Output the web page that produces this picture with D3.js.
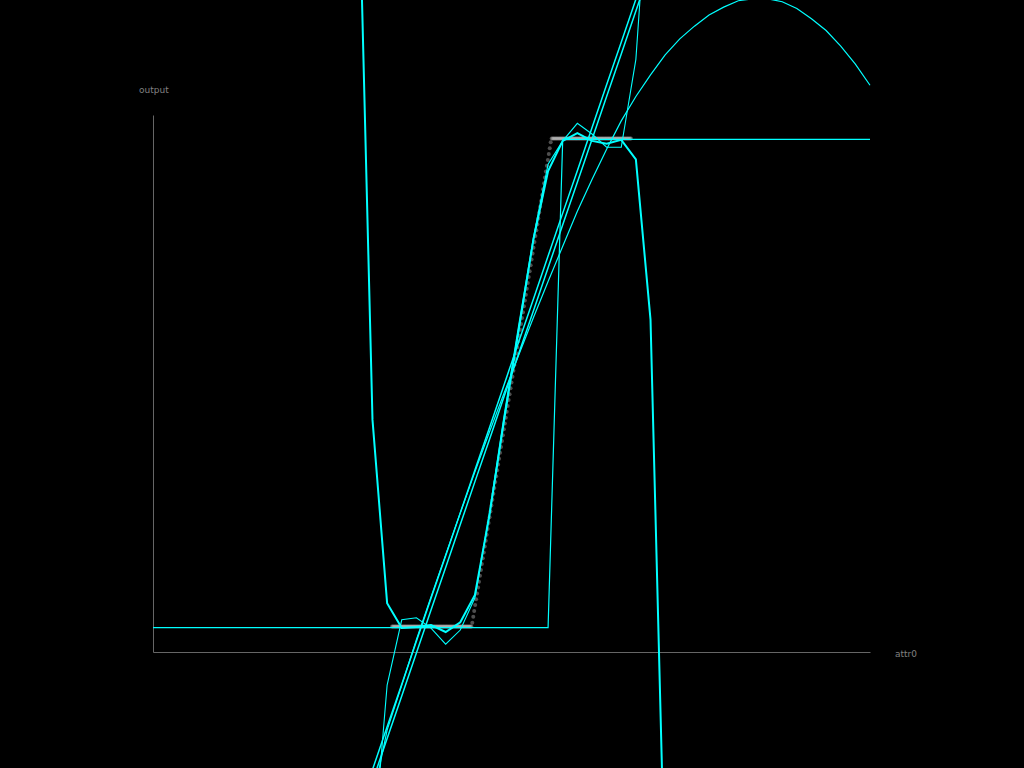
<!DOCTYPE html>
<html><head><meta charset="utf-8">
<script src="https://cdn.jsdelivr.net/npm/d3@7"></script>
<style>html,body{margin:0;background:#000;overflow:hidden}</style>
</head><body>
<svg id="c" width="1024" height="768"></svg>
<script>
// ---- data ----
const xLabel = "attr0";
const yLabel = "output";
const xDomain = [-3, 3];
const yDomain = [-0.05, 1.05];

// prediction grid (attr0)
const sampleX = [-3,-2.8776,-2.7551,-2.6327,-2.5102,-2.3878,-2.2653,-2.1429,-2.0204,-1.898,
 -1.7755,-1.6531,-1.5306,-1.4082,-1.2857,-1.1633,-1.0408,-0.9184,-0.7959,-0.6735,
 -0.551,-0.4286,-0.3061,-0.1837,-0.0612,0.0612,0.1837,0.3061,0.4286,0.551,
 0.6735,0.7959,0.9184,1.0408,1.1633,1.2857,1.4082,1.5306,1.6531,1.7755,
 1.898,2.0204,2.1429,2.2653,2.3878,2.5102,2.6327,2.7551,2.8776,3];

const stepModel = [0,0,0,0,0,0,0,0,0,0, 0,0,0,0,0,0,0,0,0,0, 0,0,0,0,0,0,0,0,1,1,
 1,1,1,1,1,1,1,1,1,1, 1,1,1,1,1,1,1,1,1,1];

const polyHigh = [900,600,400,260,170,110,70,45,28,17, 10,6,3.4,4.0,1.624,0.426,0.050,-0.001,0.001,0.005,
 -0.009,0.011,0.067,0.231,0.426,0.611,0.795,0.935,0.997,1.013,
 0.997,0.991,0.999,0.959,0.631,-0.545,-3.2,-8,-17,-33, -60,-100,-160,-250,-380,-560,-800,-1100,-1500,-2000];

const polyLow = [-900,-600,-400,-260,-170,-110,-70,-45,-28,-17, -10,-6,-3.5,-2.4,-1.38,-0.477,-0.118,0.016,0.020,-0.001,
 -0.034,-0.005,0.061,0.237,0.436,0.621,0.800,0.949,0.997,1.033,
 1.011,0.984,0.984,1.164,1.596,4.5,9,17,30,50, 80,120,180,260,370,510,700,950,1250,1650];

const linearA = [-1.606,-1.518,-1.431,-1.343,-1.255,-1.168,-1.080,-0.992,-0.905,-0.817,
 -0.729,-0.642,-0.554,-0.466,-0.379,-0.291,-0.203,-0.116,-0.028,0.060,
 0.147,0.235,0.323,0.410,0.498,0.586,0.673,0.761,0.849,0.936,
 1.024,1.112,1.199,1.287,1.375,1.462,1.550,1.638,1.725,1.813,
 1.901,1.988,2.076,2.164,2.251,2.339,2.427,2.514,2.602,2.690];

const linearB = [-1.630,-1.542,-1.455,-1.367,-1.279,-1.192,-1.104,-1.016,-0.929,-0.841,
 -0.753,-0.666,-0.578,-0.490,-0.403,-0.315,-0.227,-0.140,-0.052,0.036,
 0.123,0.211,0.299,0.386,0.474,0.562,0.649,0.737,0.825,0.912,
 1.000,1.088,1.175,1.263,1.351,1.438,1.526,1.614,1.701,1.789,
 1.877,1.964,2.052,2.140,2.227,2.315,2.403,2.490,2.578,2.666];

const smoothCurve = [-3.13,-2.9,-2.67,-2.45,-2.24,-2.03,-1.83,-1.64,-1.46,-1.28,
 -1.11,-0.95,-0.79,-0.64,-0.497,-0.354,-0.210,-0.118,-0.025,0.063,
 0.149,0.235,0.319,0.401,0.481,0.559,0.635,0.709,0.781,0.853,
 0.918,0.980,1.038,1.088,1.132,1.173,1.206,1.232,1.255,1.271,
 1.284,1.288,1.288,1.282,1.268,1.247,1.223,1.191,1.154,1.111];

// observed samples
const obsX = [-1,-0.992,-0.984,-0.976,-0.968,-0.96,-0.952,-0.944,-0.936,-0.928,-0.92,-0.912,-0.904,-0.896,-0.888,-0.88,-0.872,-0.864,-0.856,-0.848,-0.84,-0.832,-0.824,-0.816,-0.808,-0.8,-0.792,-0.784,-0.776,-0.768,-0.76,-0.752,-0.744,-0.736,-0.728,-0.72,-0.712,-0.704,-0.696,-0.688,-0.68,-0.672,-0.664,-0.656,-0.648,-0.64,-0.632,-0.624,-0.616,-0.608,-0.6,-0.592,-0.584,-0.576,-0.568,-0.56,-0.552,-0.544,-0.536,-0.528,-0.52,-0.512,-0.504,-0.496,-0.488,-0.48,-0.472,-0.464,-0.456,-0.448,-0.44,-0.432,-0.424,-0.416,-0.408,-0.4,-0.392,-0.384,-0.376,-0.368,-0.36,-0.352,-0.344,-0.336,
 -0.328,-0.32,-0.312,-0.304,-0.296,-0.288,-0.28,-0.272,-0.264,-0.256,-0.248,-0.24,-0.232,-0.224,-0.216,-0.208,-0.2,-0.192,-0.184,-0.176,-0.168,-0.16,-0.152,-0.144,-0.136,-0.128,-0.12,-0.112,-0.104,-0.096,-0.088,-0.08,-0.072,-0.064,-0.056,-0.048,-0.04,-0.032,-0.024,-0.016,-0.008,0,0.008,0.016,0.024,0.032,0.04,0.048,0.056,0.064,0.072,0.08,0.088,0.096,0.104,0.112,0.12,0.128,0.136,0.144,0.152,0.16,0.168,0.176,0.184,0.192,0.2,0.208,0.216,0.224,0.232,0.24,0.248,0.256,0.264,0.272,0.28,0.288,0.296,0.304,0.312,0.32,0.328,
 0.336,0.344,0.352,0.36,0.368,0.376,0.384,0.392,0.4,0.408,0.416,0.424,0.432,0.44,0.448,0.456,0.464,0.472,0.48,0.488,0.496,0.504,0.512,0.52,0.528,0.536,0.544,0.552,0.56,0.568,0.576,0.584,0.592,0.6,0.608,0.616,0.624,0.632,0.64,0.648,0.656,0.664,0.672,0.68,0.688,0.696,0.704,0.712,0.72,0.728,0.736,0.744,0.752,0.76,0.768,0.776,0.784,0.792,0.8,0.808,0.816,0.824,0.832,0.84,0.848,0.856,0.864,0.872,0.88,0.888,0.896,0.904,0.912,0.92,0.928,0.936,0.944,0.952,0.96,0.968,0.976,0.984,0.992,1];
const obsY = [0,0,0,0,0,0,0,0,0,0,0,0,0,0,0,0,0,0,0,0,0,0,0,0,0,0,0,0,0,0,0,0,0,0,0,0,0,0,0,0,0,0,0,0,0,0,0,0,0,0,0,0,0,0,0,0,0,0,0,0,0,0,0,0,0,0,0,0,0,0,0,0,0,0,0,0,0,0,0,0,0,0,0,0,
 0.008,0.02,0.032,0.044,0.056,0.068,0.08,0.092,0.104,0.116,0.128,0.14,0.152,0.164,0.176,0.188,0.2,0.212,0.224,0.236,0.248,0.26,0.272,0.284,0.296,0.308,0.32,0.332,0.344,0.356,0.368,0.38,0.392,0.404,0.416,0.428,0.44,0.452,0.464,0.476,0.488,0.5,0.512,0.524,0.536,0.548,0.56,0.572,0.584,0.596,0.608,0.62,0.632,0.644,0.656,0.668,0.68,0.692,0.704,0.716,0.728,0.74,0.752,0.764,0.776,0.788,0.8,0.812,0.824,0.836,0.848,0.86,0.872,0.884,0.896,0.908,0.92,0.932,0.944,0.956,0.968,0.98,0.992,
 1,1,1,1,1,1,1,1,1,1,1,1,1,1,1,1,1,1,1,1,1,1,1,1,1,1,1,1,1,1,1,1,1,1,1,1,1,1,1,1,1,1,1,1,1,1,1,1,1,1,1,1,1,1,1,1,1,1,1,1,1,1,1,1,1,1,1,1,1,1,1,1,1,1,1,1,1,1,1,1,1,1,1,1];

// ---- chart ----
const svg = d3.select("#c");
svg.append("rect").attr("width",1024).attr("height",768).attr("fill","#000");
const x = d3.scaleLinear().domain(xDomain).range([153, 870]);
const y = d3.scaleLinear().domain(yDomain).range([652, 115]);

const gx = svg.append("g").attr("transform","translate(0,652)")
  .call(d3.axisBottom(x).ticks(0).tickSizeOuter(0));
const gy = svg.append("g").attr("transform","translate(153,0)")
  .call(d3.axisLeft(y).ticks(0).tickSizeOuter(0));
[gx,gy].forEach(g => g.select(".domain").attr("stroke","#666").attr("stroke-width",1));

svg.append("text").attr("x",139).attr("y",93).text(yLabel)
  .attr("fill","#808080").attr("font-family","DejaVu Sans").attr("font-size",9);
svg.append("text").attr("x",895).attr("y",657).text(xLabel)
  .attr("fill","#808080").attr("font-family","DejaVu Sans").attr("font-size",9);

// observations
svg.append("g").selectAll("circle").data(obsX).join("circle")
  .attr("cx",(d,i)=>x(d)).attr("cy",(d,i)=>y(obsY[i])-1)
  .attr("r",2).attr("fill","#cccccc").attr("fill-opacity",0.38);

const line = d3.line().x((d,i)=>x(sampleX[i])).y(d=>y(d));
const models = [
  {v: stepModel, w: 1.2},
  {v: linearA, w: 1.5},
  {v: linearB, w: 1.5},
  {v: smoothCurve, w: 1.2},
  {v: polyLow, w: 1.1},
  {v: polyHigh, w: 2}
];
svg.append("g").selectAll("path").data(models).join("path")
  .attr("d", m => line(m.v))
  .attr("fill","none").attr("stroke","#00ffff").attr("stroke-width", m => m.w)
  .attr("stroke-linejoin","miter");
</script>
</body></html>
